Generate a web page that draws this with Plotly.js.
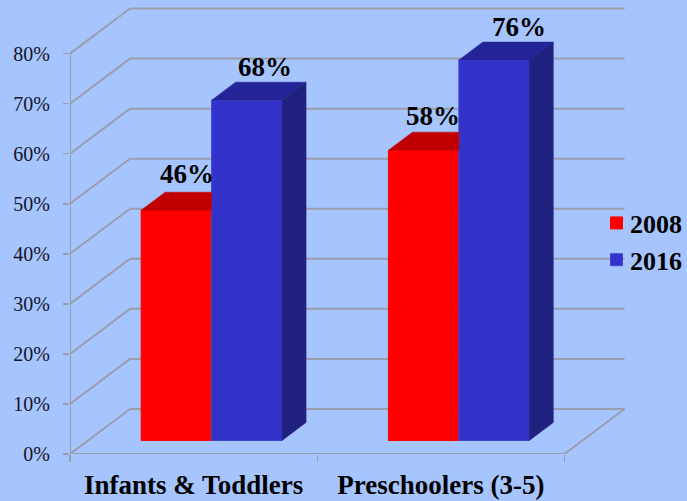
<!DOCTYPE html>
<html>
<head>
<meta charset="utf-8">
<script src="https://cdn.plot.ly/plotly-3.0.1.min.js"></script>
<style>html,body{margin:0;padding:0;background:#a6c4fd;overflow:hidden}</style>
</head>
<body>
<div id="chart" style="width:687px;height:501px"></div>
<script>
// Data
const categories = ['Infants & Toddlers', 'Preschoolers (3-5)'];
const seriesNames = ['2008', '2016'];
const values2008 = [46, 58];
const values2016 = [68, 76];
const yTicks = [0, 10, 20, 30, 40, 50, 60, 70, 80];

// Look of the faked 3D box (data units: categories on x, percent on y)
const wallDx = 0.2427, wallDy = 9;
const barDx = 0.097, barDy = 3.6;
const liftDx = 0.0728, liftDy = 2.7;
const barW = 0.285;
const BG = '#a6c4fd', GRID = '#989eab';
const RED = '#ff0000', RED_TOP = '#c00000';
const BLUE = '#3333cc', BLUE_TOP = '#242496', BLUE_SIDE = '#20207f';

const centers = categories.map((_, i) => i + 0.5);
const left = centers.map(c => c + liftDx - barW);
const mid = centers.map(c => c + liftDx);
const right = centers.map(c => c + liftDx + barW);

const traces = [];
function barTrace(name, xs, ys, color, edge) {
  return {
    type: 'bar', name, legendgroup: name,
    x: xs.map(x => x + barW / 2), y: ys,
    base: ys.map(() => liftDy), width: barW,
    marker: { color, line: { color: edge, width: 1 } },
    hoverinfo: 'skip'
  };
}
traces.push(barTrace(seriesNames[0], left, values2008, RED, RED));
traces.push(barTrace(seriesNames[1], mid, values2016, BLUE, '#4046d0'));

function face(xs, ys, color) {
  return { type: 'scatter', mode: 'lines', x: xs, y: ys, fill: 'toself', fillcolor: color,
    line: { width: 0.5, color }, showlegend: false, hoverinfo: 'skip' };
}
categories.forEach((_, i) => {
  const r = values2008[i] + liftDy, b = values2016[i] + liftDy;
  // red top (its back part is hidden by the taller blue bar)
  traces.push(face([left[i], left[i] + barDx, mid[i], mid[i], left[i]],
                   [r, r + barDy, r + barDy, r, r], RED_TOP));
  // blue top
  traces.push(face([mid[i], mid[i] + barDx, right[i] + barDx, right[i], mid[i]],
                   [b, b + barDy, b + barDy, b, b], BLUE_TOP));
  // blue side
  traces.push(face([right[i], right[i] + barDx, right[i] + barDx, right[i], right[i]],
                   [b, b + barDy, liftDy + barDy, liftDy, b], BLUE_SIDE));
});

// Walls and floor
const line = (x0, y0, x1, y1) => ({ type: 'line', layer: 'below', xref: 'x', yref: 'y', x0, y0, x1, y1,
  line: { color: GRID, width: 2 } });
const shapes = [];
yTicks.forEach(v => {
  shapes.push(line(0, v, wallDx, v + wallDy));
  shapes.push(line(wallDx, v + wallDy, 2 + wallDx, v + wallDy));
});
shapes.push(line(0, 0, 0, 80));
shapes.push(line(0, 0, 2, 0));
shapes.push(line(2, 0, 2 + wallDx, wallDy));

// Value labels
const labelFont = { family: 'Liberation Serif', size: 27, color: '#000', weight: 700 };
const xShifts2008 = [10.5, 9], xShifts2016 = [18, 25];
const yShifts2008 = [36, 34], yShifts2016 = [33, 33];
const annotations = [];
categories.forEach((_, i) => {
  annotations.push({ x: left[i] + barW / 2, y: values2008[i] + liftDy, xref: 'x', yref: 'y',
    text: '<b>' + values2008[i] + '%</b>', showarrow: false, font: labelFont,
    xshift: xShifts2008[i], yshift: yShifts2008[i], xanchor: 'center', yanchor: 'middle' });
  annotations.push({ x: mid[i] + barW / 2, y: values2016[i] + liftDy, xref: 'x', yref: 'y',
    text: '<b>' + values2016[i] + '%</b>', showarrow: false, font: labelFont,
    xshift: xShifts2016[i], yshift: yShifts2016[i], xanchor: 'center', yanchor: 'middle' });
});

const layout = {
  width: 687, height: 501, autosize: false,
  margin: { l: 70, r: 0, t: 0, b: 47, pad: 0 },
  paper_bgcolor: BG, plot_bgcolor: BG,
  barmode: 'overlay', showlegend: true,
  font: { family: 'Liberation Serif', color: '#000' },
  xaxis: {
    range: [0, 617 / 247.25], fixedrange: true, showgrid: false, zeroline: false, showline: false,
    tickmode: 'array', tickvals: centers, ticktext: categories.map(c => '<b>' + c + '</b>'),
    ticks: '', ticklabelstandoff: 12,
    tickfont: { family: 'Liberation Serif', size: 27, color: '#000' },
    minor: { tickmode: 'linear', tick0: 0, dtick: 1, ticks: 'outside', ticklen: 7, tickwidth: 1.5, tickcolor: GRID, showgrid: false }
  },
  yaxis: {
    range: [0, 454 / 5.005], fixedrange: true, showgrid: false, zeroline: false, showline: false,
    tickmode: 'array', tickvals: yTicks, ticktext: yTicks.map(v => v + '%'),
    ticks: 'outside', ticklen: 6, tickwidth: 1.5, tickcolor: GRID, ticklabelstandoff: 9,
    tickfont: { family: 'Liberation Serif', size: 20, color: '#15152a' }
  },
  legend: {
    x: 0.8428, xanchor: 'left', y: 0.468, yanchor: 'middle', xref: 'paper', yref: 'paper',
    bgcolor: 'rgba(0,0,0,0)', borderwidth: 0, tracegroupgap: 3, traceorder: 'normal',
    font: { family: 'Liberation Serif', size: 26, color: '#000', weight: 700 }
  },
  shapes, annotations
};
Plotly.newPlot('chart', traces, layout, { displayModeBar: false, staticPlot: true }).then(gd => {
  // The reference keeps its legend swatches closer to the text than Plotly's minimum gap.
  gd.querySelectorAll('.legend .legendsymbols').forEach(g => g.setAttribute('transform', 'translate(6.5,0)'));
});
</script>
</body>
</html>
